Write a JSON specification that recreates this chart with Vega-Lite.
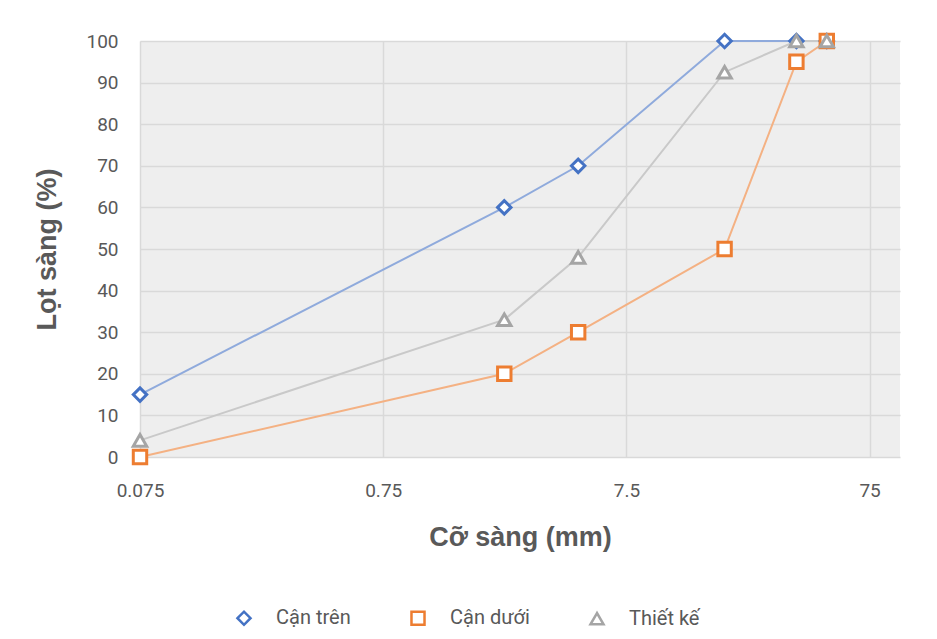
{
  "$schema": "https://vega.github.io/schema/vega-lite/v6.json",
  "width": 760,
  "height": 416,
  "autosize": {"type": "none"},
  "padding": {"left": 140, "top": 41, "right": 37, "bottom": 182},
  "background": "white",
  "config": {
    "view": {"fill": "#eeeeee", "stroke": null},
    "font": "Roboto",
    "axis": {
      "labelColor": "#595959",
      "titleColor": "#595959",
      "labelFont": "Roboto",
      "titleFont": "Liberation Sans",
      "labelFontSize": 19,
      "titleFontSize": 27,
      "titleFontWeight": "bold",
      "gridColor": "#d9d9d9",
      "gridWidth": 1.5,
      "domain": false,
      "ticks": false
    },
    "legend": {
      "title": null,
      "orient": "none",
      "direction": "horizontal",
      "legendX": 94,
      "legendY": 567,
      "symbolSize": 170,
      "symbolStrokeWidth": 2.5,
      "symbolFillColor": "white",
      "labelFont": "Roboto",
      "labelFontSize": 20,
      "labelColor": "#595959",
      "labelOffset": 22,
      "columnPadding": 55
    }
  },
  "data": {
    "values": [
      {"size": 0.075, "pass": 15, "series": "Cận trên"},
      {"size": 2.36, "pass": 60, "series": "Cận trên"},
      {"size": 4.75, "pass": 70, "series": "Cận trên"},
      {"size": 19, "pass": 100, "series": "Cận trên"},
      {"size": 37.5, "pass": 100, "series": "Cận trên"},
      {"size": 50, "pass": 100, "series": "Cận trên"},
      {"size": 0.075, "pass": 0, "series": "Cận dưới"},
      {"size": 2.36, "pass": 20, "series": "Cận dưới"},
      {"size": 4.75, "pass": 30, "series": "Cận dưới"},
      {"size": 19, "pass": 50, "series": "Cận dưới"},
      {"size": 37.5, "pass": 95, "series": "Cận dưới"},
      {"size": 50, "pass": 100, "series": "Cận dưới"},
      {"size": 0.075, "pass": 4, "series": "Thiết kế"},
      {"size": 2.36, "pass": 33, "series": "Thiết kế"},
      {"size": 4.75, "pass": 48, "series": "Thiết kế"},
      {"size": 19, "pass": 92.5, "series": "Thiết kế"},
      {"size": 37.5, "pass": 100, "series": "Thiết kế"},
      {"size": 50, "pass": 100, "series": "Thiết kế"}
    ]
  },
  "encoding": {
    "x": {
      "field": "size",
      "type": "quantitative",
      "scale": {"type": "log", "domain": [0.075, 100], "nice": false, "zero": false},
      "axis": {
        "values": [0.075, 0.75, 7.5, 75],
        "format": "~g",
        "title": "Cỡ sàng (mm)",
        "labelPadding": 24,
        "titlePadding": 24,
        "labelFlush": false
      }
    },
    "y": {
      "field": "pass",
      "type": "quantitative",
      "scale": {"domain": [0, 100], "nice": false},
      "axis": {
        "values": [0, 10, 20, 30, 40, 50, 60, 70, 80, 90, 100],
        "title": "Lọt sàng (%)",
        "labelPadding": 22,
        "titlePadding": 24
      }
    }
  },
  "layer": [
    {
      "mark": {"type": "line", "strokeWidth": 2},
      "encoding": {
        "color": {
          "field": "series",
          "type": "nominal",
          "scale": {"range": ["#f4b183", "#8faadc", "#c9c9c9"]},
          "legend": null
        }
      }
    },
    {
      "mark": {"type": "point", "fill": "white", "filled": false, "strokeWidth": 3, "size": 180, "opacity": 1, "fillOpacity": 1},
      "encoding": {
        "stroke": {
          "field": "series",
          "type": "nominal",
          "scale": {"domain": ["Cận trên", "Cận dưới", "Thiết kế"], "range": ["#4472c4", "#ed7d31", "#a5a5a5"]}
        },
        "shape": {
          "field": "series",
          "type": "nominal",
          "scale": {"domain": ["Cận trên", "Cận dưới", "Thiết kế"], "range": ["diamond", "square", "triangle-up"]}
        }
      }
    }
  ]
}
